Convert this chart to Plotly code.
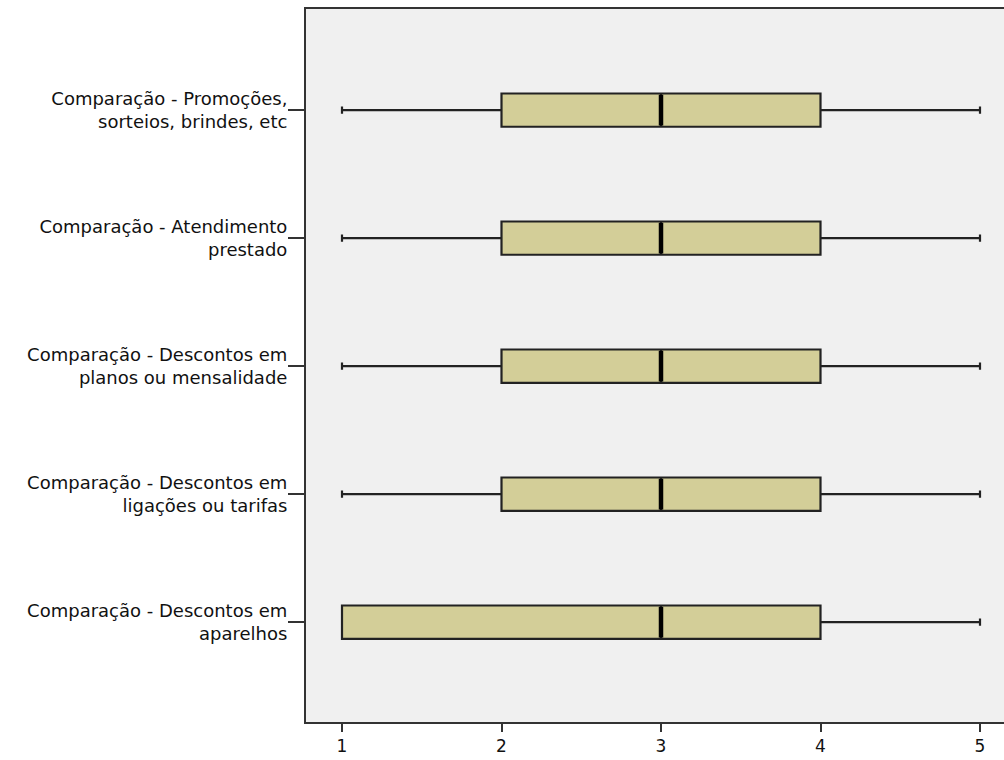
import plotly.graph_objects as go

# Row labels (top to bottom)
categories = [
    "Comparação - Promoções,<br>sorteios, brindes, etc",
    "Comparação - Atendimento<br>prestado",
    "Comparação - Descontos em<br>planos ou mensalidade",
    "Comparação - Descontos em<br>ligações ou tarifas",
    "Comparação - Descontos em<br>aparelhos",
]
minimum = [1, 1, 1, 1, 1]
q1 = [2, 2, 2, 2, 1]
median = [3, 3, 3, 3, 3]
q3 = [4, 4, 4, 4, 4]
maximum = [5, 5, 5, 5, 5]
x_ticks = [1, 2, 3, 4, 5]

n = len(categories)
positions = [n - 1 - i for i in range(n)]  # top row gets the highest position
box_w = 0.26

fig = go.Figure()
fig.add_trace(go.Box(
    orientation="h",
    y=positions,
    q1=q1, median=median, q3=q3,
    lowerfence=minimum, upperfence=maximum,
    width=box_w,
    whiskerwidth=0.22,
    fillcolor="#D3CE98",
    line=dict(color="#222222", width=2.2),
    boxpoints=False,
    hoverinfo="skip",
    showlegend=False,
))

# Heavy median bars
for p, m in zip(positions, median):
    fig.add_trace(go.Scatter(
        x=[m, m], y=[p - box_w / 2 + 0.01, p + box_w / 2 - 0.01],
        mode="lines", line=dict(color="black", width=4.5),
        hoverinfo="skip", showlegend=False,
    ))

fig.update_layout(
    width=1004, height=760,
    margin=dict(l=306, r=0, t=9, b=38),
    paper_bgcolor="white",
    plot_bgcolor="#F0F0F0",
    font=dict(family="DejaVu Sans, Verdana, sans-serif", size=18, color="#111111"),
    xaxis=dict(
        range=[0.7743, 5.1505],
        tickvals=x_ticks, ticktext=[str(v) for v in x_ticks],
        showgrid=False, zeroline=False,
        showline=True, mirror=True, linecolor="#333333", linewidth=2,
        ticks="outside", ticklen=8, tickwidth=2, tickcolor="#333333",
        tickfont=dict(size=17),
    ),
    yaxis=dict(
        range=[-0.78, 4.79],
        tickvals=positions, ticktext=categories,
        showgrid=False, zeroline=False,
        showline=True, linecolor="#333333", linewidth=2,
        ticks="outside", ticklen=16, tickwidth=1.5, tickcolor="#333333",
        ticklabelstandoff=-3,
    ),
)

fig.write_html("out.html")
